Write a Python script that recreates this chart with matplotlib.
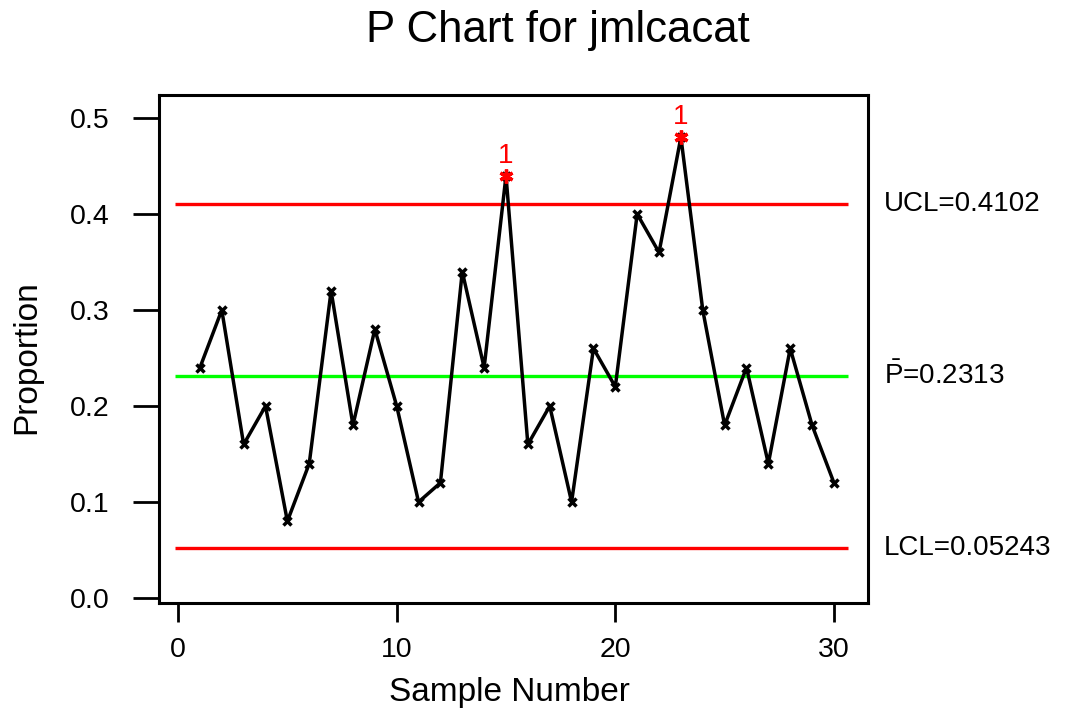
"""
P chart for jmlcacat (Minitab style) recreated with matplotlib.
"""
import numpy as np
import matplotlib
matplotlib.use("Agg")
import matplotlib.pyplot as plt

matplotlib.rcParams.update({
    "font.family": ["Liberation Sans", "DejaVu Sans"],
    "mathtext.fontset": "custom",
    "mathtext.rm": "Liberation Sans",
    "mathtext.it": "Liberation Sans",
})

# data
samples = np.arange(1, 31)
proportion = [0.24, 0.30, 0.16, 0.20, 0.08, 0.14, 0.32, 0.18, 0.28, 0.20,
              0.10, 0.12, 0.34, 0.24, 0.44, 0.16, 0.20, 0.10, 0.26, 0.22,
              0.40, 0.36, 0.48, 0.30, 0.18, 0.24, 0.14, 0.26, 0.18, 0.12]
ucl = 0.4102
center = 0.2313
lcl = 0.05243
flagged = [15, 23]          # samples failing test 1
x_ticks = [0, 10, 20, 30]
y_ticks = [0.0, 0.1, 0.2, 0.3, 0.4, 0.5]

fig = plt.figure(figsize=(10.71, 7.10), dpi=100)
ax = fig.add_axes([0.1485, 0.1507, 0.662, 0.7155])

ax.hlines([ucl, lcl], -0.14, 30.65, color="#FF0000", lw=2.4, zorder=2)
ax.hlines(center, -0.14, 30.65, color="#00FF00", lw=2.4, zorder=2)

ax.plot(samples, proportion, color="black", lw=2.5, marker="x",
        markersize=6, markeredgewidth=2.5, zorder=3)

for s in flagged:
    v = proportion[s - 1]
    ax.plot(s, v, marker=(6, 2, 0), color="#FF0000", markersize=10,
            markeredgewidth=2.4, zorder=4)
    ax.annotate("1", (s, v), xytext=(0, 5), textcoords="offset points",
                ha="center", va="bottom", color="#FF0000", fontsize=20)

ax.set_xlim(-0.87, 31.56)
ax.set_ylim(-0.0052, 0.524)
ax.set_xticks(x_ticks)
ax.set_xticklabels([str(t) for t in x_ticks])
ax.set_yticks(y_ticks)
ax.set_yticklabels([f"{t:.1f}" for t in y_ticks])
ax.tick_params(axis="y", length=18.5, width=2, pad=17, labelsize=20.5)
ax.tick_params(axis="x", length=13.5, width=2, pad=11, labelsize=20.5)
for sp in ax.spines.values():
    sp.set_linewidth(2.2)

# control limit labels on the right
tr = ax.get_yaxis_transform()
lab_x = 1.0226
ax.text(lab_x, ucl, "UCL=0.4102", transform=tr, ha="left", va="center",
        fontsize=20)
ax.text(lab_x, center, r"$\bar{\mathrm{P}}$=0.2313", transform=tr,
        ha="left", va="center", fontsize=20)
ax.text(lab_x, lcl, "LCL=0.05243", transform=tr, ha="left", va="center",
        fontsize=20)

fig.text(0.521, 0.957, "P Chart for jmlcacat", ha="center", va="center",
         fontsize=31.5)
fig.text(0.476, 0.024, "Sample Number", ha="center", va="center",
         fontsize=24)
fig.text(0.025, 0.497, "Proportion", ha="center", va="center",
         rotation=90, fontsize=24)

fig.savefig("out.png", dpi=100)
